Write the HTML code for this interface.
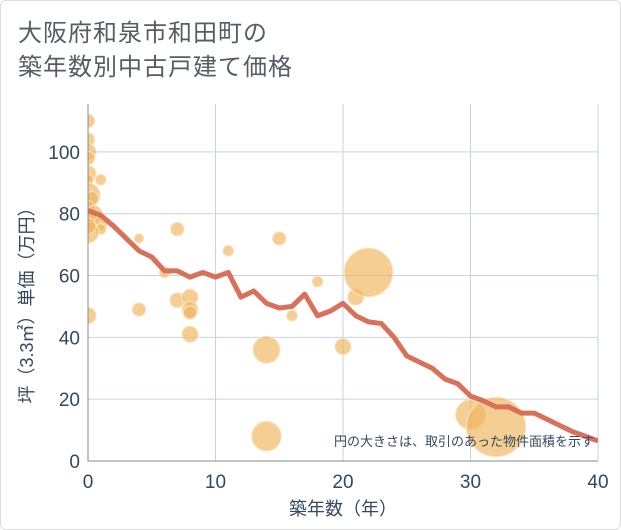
<!DOCTYPE html>
<html><head><meta charset="utf-8"><style>
body{margin:0;background:#fff;font-family:"Liberation Sans","Noto Sans CJK JP",sans-serif;}
#wrap{position:relative;width:619px;height:528px;border:1px solid #ddd;border-radius:6px;overflow:hidden;}
.title{position:absolute;left:17px;top:16px;font-size:24px;line-height:34px;color:#555e66;letter-spacing:1px;}
</style></head><body>
<div id="wrap">
<div class="title">大阪府和泉市和田町の<br>築年数別中古戸建て価格</div>
<svg id="chart" width="621" height="530" style="position:absolute;left:0;top:0"></svg>
</div>
<script>
const years=[0,1,2,3,4,5,6,7,8,9,10,11,12,13,14,15,16,17,18,19,20,21,22,23,24,25,26,27,28,29,30,31,32,33,34,35,36,37,38,39,40];
const avgPrice=[81,79.5,76,72,68,66,61.5,61.5,59.5,61,59.5,61,53,55,51,49.5,50,54,47,48.5,51,47,45,44.5,40,34,32,30,26.5,25,21,19.5,17.5,17.5,15.5,15.5,13.5,11.5,9.5,8,6.5];
const bubX=[0,0,0,0,0,0,1,0,0.3,0,0.5,0,1,1,0,0,0,4,4,7,7,8,8,8,8,6,11,15,16,14,14,18,20,21,22,30,32];
const bubY=[110,104,100,98,93,91,91,86,85,82,80,78,77,75,74,76,47,72,49,75,52,53,49,48,41,61,68,72,47,36,8,58,37,53,61,15,11];
const bubR=[5,5,6,5,6,4,4,9,5,5,6,7,5,4,8,6,6,3.5,5,5,5.5,6,6,5,6,4,4,5,4,10,11,4,6,6,18,11,22];
const xTicks=[0,10,20,30,40];
const yTicks=[0,20,40,60,80,100];
const X0=87,X1=597,Y0=460,YT=103;
const xs=v=>X0+(v/40)*(X1-X0);
const ys=v=>Y0-(v/115.5)*(Y0-YT);
const rs=v=>v*1.35;
const svg=document.getElementById('chart');
const NS='http://www.w3.org/2000/svg';
function mk(t,a){const e=document.createElementNS(NS,t);for(const k in a)e.setAttribute(k,a[k]);svg.appendChild(e);return e;}
const defs=mk('defs',{});
const cp=document.createElementNS(NS,'clipPath');cp.setAttribute('id','clip');defs.appendChild(cp);
const cr=document.createElementNS(NS,'rect');cr.setAttribute('x',X0);cr.setAttribute('y',YT);cr.setAttribute('width',X1-X0);cr.setAttribute('height',Y0-YT);cp.appendChild(cr);
yTicks.forEach(t=>{
 const l=mk('line',{x1:X0,x2:X1,y1:ys(t),y2:ys(t),stroke:'#c8d3e0','stroke-width':1});
 
 
 const tx=mk('text',{x:X0-8,y:ys(t)+7,'text-anchor':'end','font-size':19,fill:'#34495e'});
 tx.textContent=t;
 
 
});
xTicks.forEach(t=>{
 const l=mk('line',{x1:xs(t),x2:xs(t),y1:YT,y2:Y0,stroke:'#c8d3e0','stroke-width':1});
 
 
 const tx=mk('text',{x:xs(t),y:Y0+27,'text-anchor':'middle','font-size':19,fill:'#34495e'});
 tx.textContent=t;
 
 
});
const g=mk('g',{'clip-path':'url(#clip)'});
bubX.forEach((v,i)=>{
 const c=document.createElementNS(NS,'circle');
 c.setAttribute('cx',xs(v));c.setAttribute('cy',ys(bubY[i]));c.setAttribute('r',rs(bubR[i]));
 c.setAttribute('fill','rgba(240,180,90,0.65)');c.setAttribute('stroke','#fbe6c4');c.setAttribute('stroke-width',1);
 
 
 g.appendChild(c);
});
const p=document.createElementNS(NS,'polyline');
p.setAttribute('points',years.map((y,i)=>xs(y)+','+ys(avgPrice[i])).join(' '));
p.setAttribute('fill','none');p.setAttribute('stroke','#d9705a');p.setAttribute('stroke-width',5);p.setAttribute('stroke-linejoin','round');


g.appendChild(p);
const ax=mk('path',{d:`M${X0} ${YT}V${Y0}H${X1}`,stroke:'#888',fill:'none','stroke-width':1});


const note=mk('text',{x:593,y:445,'text-anchor':'end','font-size':13,fill:'#34495e'});
note.textContent='円の大きさは、取引のあった物件面積を示す';


const xt=mk('text',{x:342,y:514,'text-anchor':'middle','font-size':18,fill:'#34495e'});
xt.textContent='築年数（年）';


const yt=mk('text',{x:0,y:0,'text-anchor':'middle','font-size':18,fill:'#34495e',transform:'translate(32,300) rotate(-90)'});
yt.textContent='坪（3.3㎡）単価（万円）';


</script>
</body></html>
